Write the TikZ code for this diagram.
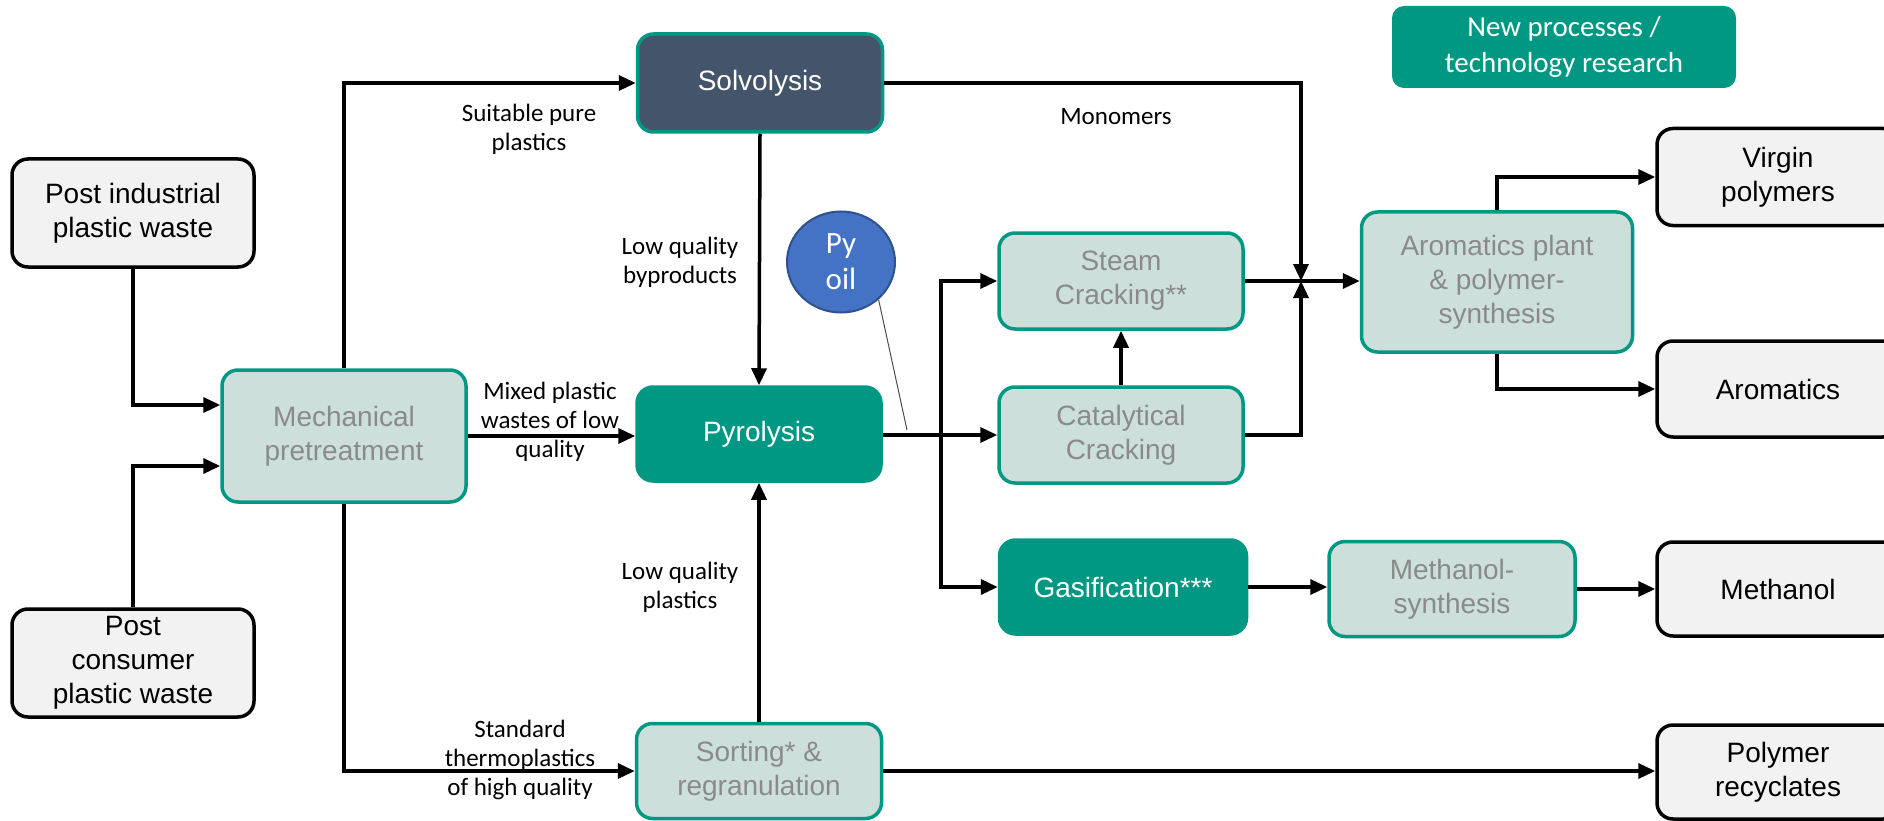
\documentclass[tikz,border=0pt]{standalone}
\usepackage{fontspec}
\setmainfont{Liberation Sans}
\newfontfamily\lblfont{Carlito}
\usetikzlibrary{arrows.meta,shapes.geometric}
\definecolor{tealgreen}{HTML}{009882}
\definecolor{palegreen}{HTML}{CCDFDA}
\definecolor{slatebox}{HTML}{44546A}
\definecolor{srcgray}{HTML}{F2F2F2}
\definecolor{textgray}{HTML}{8A8A8A}
\definecolor{pyblue}{HTML}{4472C4}
\definecolor{pyborder}{HTML}{2F528F}
\tikzset{
  box/.style={rounded corners=16pt, line width=3.5pt, align=center, inner sep=2pt,
    font=\fontsize{28}{34}\selectfont},
  srcbox/.style={box, draw=black, fill=srcgray, text=black, minimum width=242pt},
  procbox/.style={box, draw=tealgreen, fill=palegreen, text=textgray},
  darkbox/.style={box, draw=tealgreen, fill=tealgreen, text=white},
  flow/.style={line width=3.5pt, -{Triangle[length=17pt,width=15pt]}},
  lbl/.style={font=\lblfont\fontsize{25}{29}\selectfont, align=center, inner sep=0pt},
}
\begin{document}
\begin{tikzpicture}[x=1pt, y=-1pt]
                \useasboundingbox (0,0) rectangle (1884,821);
                \clip (0,0) rectangle (1884,821);
                % sources
                \node[srcbox, minimum height=108pt] (pind) at (133,213) {Post industrial\\plastic waste};
                \node[srcbox, minimum height=108pt] (pcon) at (133,663) {Post\\consumer\\plastic waste};
                % processes
                \node[procbox, minimum width=244pt, minimum height=132pt] (mech) at (344,436) {Mechanical\\pretreatment};
                \node[box, draw=tealgreen, fill=slatebox, text=white, minimum width=245pt, minimum height=98pt] (solv) at (760,83) {Solvolysis};
                \node[darkbox, minimum width=244pt, minimum height=94pt] (pyro) at (759,434) {Pyrolysis};
                \node[procbox, minimum width=245pt, minimum height=95pt] (sort) at (759,771) {Sorting* \&\\regranulation};
                \node[procbox, minimum width=244pt, minimum height=96pt] (steam) at (1121,281) {Steam\\Cracking**};
                \node[procbox, minimum width=244pt, minimum height=96pt] (cat) at (1121,435) {Catalytical\\Cracking};
                \node[darkbox, minimum width=247pt, minimum height=94pt] (gasi) at (1123,587) {Gasification***};
                \node[procbox, minimum width=246pt, minimum height=95pt] (msyn) at (1452,589) {Methanol-\\synthesis};
                \node[procbox, minimum width=271pt, minimum height=140pt] (arom) at (1497,282) {Aromatics plant\\\& polymer-\\synthesis};
                % products
                \node[srcbox, minimum height=97pt] (virg) at (1778,177) {Virgin\\polymers};
                \node[srcbox, minimum height=96pt] (aro) at (1778,389) {Aromatics};
                \node[srcbox, minimum height=94pt] (meoh) at (1778,589) {Methanol};
                \node[srcbox, minimum height=94pt] (recy) at (1778,772) {Polymer\\recyclates};
                % legend
                \node[box, draw=none, fill=tealgreen, text=white, rounded corners=12pt, minimum width=344pt, minimum height=82pt,
                  font=\lblfont\fontsize{29}{36}\selectfont] (newp) at (1564,47) {New processes /\\technology research};
                \node[ellipse, draw=pyborder, line width=2pt, fill=pyblue, text=white, minimum width=108pt, minimum height=101pt,
                  inner sep=0pt, align=center, font=\lblfont\fontsize{31}{36}\selectfont] (pyoil) at (841,262) {Py\\oil};
                % connectors
                \coordinate (split) at (941,435);
                \coordinate (junc) at (1301,281);
                \coordinate (pytip) at (907,430);
                \draw[flow] (pind.south) |- ([yshift=31pt]mech.west);
                \draw[flow] (pcon.north) |- ([yshift=-30pt]mech.west);
                \draw[flow] (mech.north) |- (solv.west);
                \draw[flow] (mech.east) -- (mech.east -| pyro.west);
                \draw[flow] (mech.south) |- (sort.west);
                \draw[flow] (solv.south) -- (pyro.north);
                \draw[flow] (sort.north) -- (pyro.south);
                \draw[flow] (pyro.east |- split) -- (split |- cat.west) -- (cat.west);
                \draw[flow] (split) |- (steam.west);
                \draw[flow] (split) |- (gasi.west);
                \draw[flow] (cat.north) -- (steam.south);
                \draw[flow] (solv.east) -| (junc);
                \draw[flow] (cat.east) -| (junc);
                \draw[flow] (steam.east) -- (arom.west |- steam.east);
                \draw[flow] (arom.north) |- (virg.west);
                \draw[flow] (arom.south) |- (aro.west);
                \draw[flow] (gasi.east) -- (msyn.west |- gasi.east);
                \draw[flow] (msyn.east) -- (meoh.west);
                \draw[flow] (sort.east) -- (recy.west |- sort.east);
                \draw[line width=1pt, black!70] (pyoil.-45) -- (pytip);
                % labels
                \node[lbl] (lsuit) at (529,129) {Suitable pure\\plastics};
                \node[lbl] (lmixed) at (550,422) {Mixed plastic\\wastes of low\\quality};
                \node[lbl] (lstd) at (520,760) {Standard\\thermoplastics\\of high quality};
                \node[lbl] (lbyp) at (680,262) {Low quality\\byproducts};
                \node[lbl] (llowq) at (680,587) {Low quality\\plastics};
                \node[lbl] (lmono) at (1116,117) {Monomers};
            \end{tikzpicture}
\end{document}
